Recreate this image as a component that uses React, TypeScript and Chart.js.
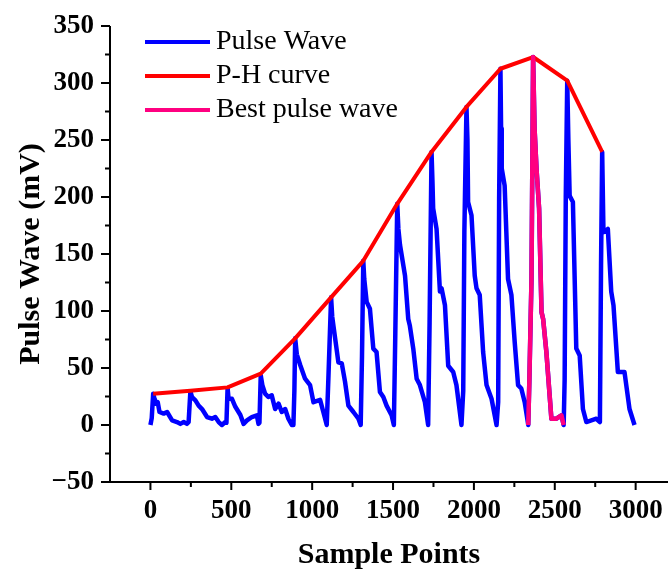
import React, { useEffect, useRef } from 'react';
import { Chart, registerables } from 'chart.js';

Chart.register(...registerables);

// Pulse wave (sample index, mV)
const pulseX = [
  0, 8, 17, 25, 35, 45, 56, 82, 103, 134, 164, 185, 206, 226,
  236, 247, 257, 278, 298, 319, 350, 380, 401, 422, 442, 463,
  470, 477, 483, 504, 525, 556, 576, 597, 627, 658, 668,
  674, 682, 692, 709, 729, 750, 771, 792, 812, 833, 853, 874, 884,
  890, 895, 905, 926, 956, 987, 1008, 1049, 1069, 1090,
  1100, 1117, 1124, 1131, 1162, 1183, 1203, 1224, 1255, 1286, 1300,
  1308, 1316, 1322, 1337, 1357, 1378, 1398, 1419, 1440, 1460, 1491, 1505,
  1514, 1526, 1533, 1543, 1574, 1594, 1604, 1625, 1646, 1666, 1697, 1717,
  1726, 1738, 1744, 1748, 1769, 1790, 1800, 1821, 1841, 1872, 1892, 1923,
  1934, 1941, 1954, 1960, 1964, 1985, 2005, 2016, 2036, 2057, 2078, 2109, 2140,
  2150, 2156, 2164, 2168, 2172, 2190, 2211, 2232, 2252, 2273, 2293, 2314, 2336,
  2343, 2356, 2366, 2375, 2387, 2403, 2418, 2428, 2448, 2479, 2510, 2541, 2555,
  2561, 2568, 2577, 2584, 2592, 2612, 2633, 2654, 2674, 2695, 2726, 2757, 2779,
  2786, 2793, 2801, 2828, 2849, 2863, 2890, 2931, 2962, 2993,
];
const pulseY = [
  0, 6, 27.5, 23, 18.7, 20, 11.4, 10, 11.4, 4, 2.6, 1, 2.6, 1,
  2.6, 29.6, 24.5, 21.6, 17, 14, 7, 5.5, 7, 2.6, 0, 2.6,
  2, 32.5, 23, 23, 16, 8.8, 1, 4, 7, 8.5, 1,
  2, 43.6, 35, 27.5, 24.5, 26, 14, 18.7, 11.4, 14, 5.5, 0, 0,
  30, 76, 62, 52.6, 40.6, 35, 20, 22, 11.4, 0,
  40, 112, 95, 87.5, 55, 54, 38, 17, 11.4, 5.5, 0,
  60, 144, 128, 108, 102, 67, 64, 29, 24.5, 17, 8.5, 0,
  80, 194, 172, 158, 131, 93, 87, 67, 40.6, 35, 20, 0,
  90, 239.5, 212, 190, 172, 117, 120, 105, 52, 46.5, 35, 0,
  30, 170, 279, 250, 195.6, 184, 131, 120, 114, 64, 35, 23, 0,
  20, 200, 312.5, 260, 225, 210, 128, 114, 73, 35, 32, 20, 0,
  40, 128, 322.8, 260, 225, 190, 99, 93, 64, 5.5, 5.5, 8.5, 0,
  40, 200, 302, 250, 201, 195.6, 67, 61, 14, 2.6, 4, 5.5, 2.6,
  140, 239.5, 169, 172, 117, 105, 46.5, 46.5, 14, 0,
];

// P-H curve (peak envelope)
const phX = [17, 247, 477, 682, 895, 1117, 1316, 1526, 1738, 1954, 2164, 2366, 2577, 2793];
const phY = [27.5, 30, 33, 45, 76, 112, 144, 194, 239.5, 279, 312.5, 322.8, 302, 239.5];

// Best pulse wave
const bestX = [2336, 2343, 2356, 2366, 2375, 2387, 2403, 2418, 2428, 2448, 2479, 2510, 2541, 2555];
const bestY = [0, 40, 128, 322.8, 260, 225, 190, 99, 93, 64, 5.5, 5.5, 8.5, 0];

const seriesLabels = ['Pulse Wave', 'P-H curve', 'Best pulse wave'];
const seriesColors = ['#0000FF', '#FF0000', '#FF0080'];

// Tick positions (major ones carry labels)
const xTicks = [0, 250, 500, 750, 1000, 1250, 1500, 1750, 2000, 2250, 2500, 2750, 3000];
const xMajor = [0, 500, 1000, 1500, 2000, 2500, 3000];
const yTicks = [-50, -25, 0, 25, 50, 75, 100, 125, 150, 175, 200, 225, 250, 275, 300, 325, 350];
const yMajor = [-50, 0, 50, 100, 150, 200, 250, 300, 350];

const xTitle = 'Sample Points';
const yTitle = 'Pulse Wave (mV)';

const FONT = '"Liberation Serif", "Times New Roman", serif';

const toPoints = (xs: number[], ys: number[]) => xs.map((x, i) => ({ x, y: ys[i] }));
const isMajor = (list: number[], v: number) => list.includes(Math.round(v));

const axesPlugin = {
  id: 'axesTicks',
  afterDraw(chart: any) {
    const { ctx, chartArea, scales } = chart;
    const xs = scales.x;
    const ys = scales.y;
    ctx.save();
    ctx.strokeStyle = '#000';
    ctx.lineWidth = 2;
    ctx.lineCap = 'butt';
    ctx.beginPath();
    ctx.moveTo(chartArea.left, chartArea.top);
    ctx.lineTo(chartArea.left, chartArea.bottom + 1);
    ctx.moveTo(chartArea.left - 1, chartArea.bottom);
    ctx.lineTo(chartArea.right, chartArea.bottom);
    for (const v of yTicks) {
      const py = ys.getPixelForValue(v);
      const len = isMajor(yMajor, v) ? 9 : 5;
      ctx.moveTo(chartArea.left, py);
      ctx.lineTo(chartArea.left - len, py);
    }
    for (const v of xTicks) {
      const px = xs.getPixelForValue(v);
      const len = isMajor(xMajor, v) ? 8 : 5;
      ctx.moveTo(px, chartArea.bottom);
      ctx.lineTo(px, chartArea.bottom + len);
    }
    ctx.stroke();
    ctx.restore();
  },
};

const legendPlugin = {
  id: 'innerLegend',
  afterDraw(chart: any) {
    const { ctx, chartArea } = chart;
    ctx.save();
    ctx.font = `28px ${FONT}`;
    ctx.textBaseline = 'middle';
    ctx.textAlign = 'left';
    seriesLabels.forEach((label, i) => {
      const y = chartArea.top + 16 + i * 34;
      const x0 = chartArea.left + 35;
      ctx.strokeStyle = seriesColors[i];
      ctx.lineWidth = 4;
      ctx.beginPath();
      ctx.moveTo(x0, y);
      ctx.lineTo(x0 + 65, y);
      ctx.stroke();
      ctx.fillStyle = '#000';
      ctx.fillText(label, x0 + 71, y);
    });
    ctx.restore();
  },
};

export default function App() {
  const ref = useRef<HTMLCanvasElement | null>(null);

  useEffect(() => {
    if (!ref.current) return;
    const chart = new Chart(ref.current, {
      type: 'line',
      data: {
        datasets: [
          {
            label: seriesLabels[0],
            data: toPoints(pulseX, pulseY),
            borderColor: seriesColors[0],
            borderWidth: 4.5,
            pointRadius: 0,
            borderJoinStyle: 'round',
            order: 3,
          },
          {
            label: seriesLabels[1],
            data: toPoints(phX, phY),
            borderColor: seriesColors[1],
            borderWidth: 4,
            pointRadius: 0,
            borderJoinStyle: 'round',
            order: 2,
          },
          {
            label: seriesLabels[2],
            data: toPoints(bestX, bestY),
            borderColor: seriesColors[2],
            borderWidth: 4.5,
            pointRadius: 0,
            borderJoinStyle: 'round',
            order: 1,
          },
        ],
      },
      options: {
        responsive: false,
        animation: false,
        layout: { padding: { top: 26, left: 0, right: 0, bottom: 0 } },
        plugins: {
          legend: { display: false },
          tooltip: { enabled: false },
        },
        scales: {
          x: {
            type: 'linear',
            min: -250,
            max: 3200,
            grid: { display: false, drawTicks: false },
            border: { display: false },
            afterBuildTicks: (s: any) => {
              s.ticks = xTicks.map((v) => ({ value: v }));
            },
            ticks: {
              autoSkip: false,
              maxRotation: 0,
              padding: 13,
              color: '#000',
              font: { family: FONT, size: 27, weight: 'bold' },
              callback: (v: any) => (isMajor(xMajor, v) ? String(Math.round(v)) : ''),
            },
            title: {
              display: true,
              text: xTitle,
              color: '#000',
              font: { family: FONT, size: 30, weight: 'bold' },
              padding: { top: 0, bottom: -2 },
            },
            afterFit: (s: any) => {
              s.height = 89;
              s.paddingLeft = 0;
              s.paddingRight = 0;
            },
          },
          y: {
            type: 'linear',
            min: -50,
            max: 350,
            grid: { display: false, drawTicks: false },
            border: { display: false },
            afterBuildTicks: (s: any) => {
              s.ticks = yTicks.map((v) => ({ value: v }));
            },
            ticks: {
              autoSkip: false,
              padding: 16,
              color: '#000',
              font: { family: FONT, size: 27, weight: 'bold' },
              callback: (v: any) => {
                const r = Math.round(v);
                if (!isMajor(yMajor, r)) return '';
                return r < 0 ? '\u2212' + Math.abs(r) : String(r);
              },
            },
            title: {
              display: true,
              text: yTitle,
              color: '#000',
              font: { family: FONT, size: 30, weight: 'bold' },
              padding: { top: 13, bottom: 0 },
            },
            afterFit: (s: any) => {
              s.width = 110;
              s.paddingTop = 0;
              s.paddingBottom = 0;
            },
          },
        },
      },
      plugins: [axesPlugin, legendPlugin],
    } as any);
    return () => chart.destroy();
  }, []);

  return (
    <div style={{ position: 'fixed', left: 0, top: 0, width: 668, height: 571, background: '#fff' }}>
      <canvas ref={ref} width={668} height={571} style={{ display: 'block' }} />
    </div>
  );
}
